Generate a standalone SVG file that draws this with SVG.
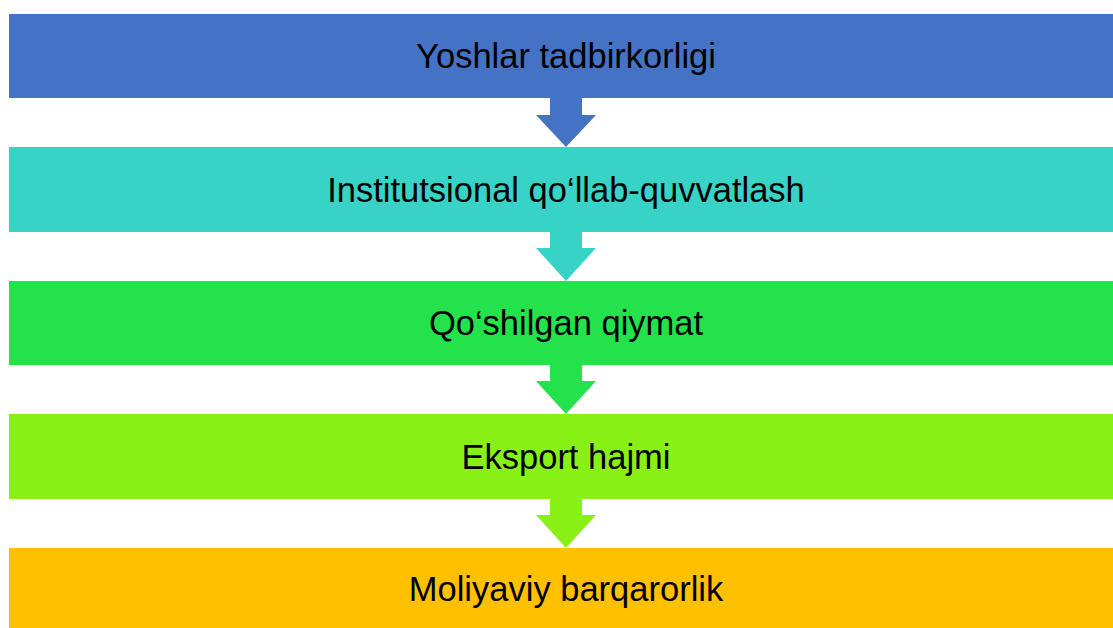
<svg xmlns="http://www.w3.org/2000/svg" width="1113" height="628" viewBox="0 0 1113 628">
<style>
.lbl{font-family:"Liberation Sans",Arial,sans-serif;font-size:34.5px;fill:#000;text-anchor:middle}
</style>
<rect width="1113" height="628" fill="#fff"/>
<g id="connectors">
<path d="M550 98H582V115H596L566 147L536 115H550Z" fill="#4472C4"/>
<path d="M550 232H582V248H596L566 281L536 248H550Z" fill="#36D3C6"/>
<path d="M550 365H582V381H596L566 414L536 381H550Z" fill="#23E24B"/>
<path d="M550 499H582V515H596L566 548L536 515H550Z" fill="#88F014"/>
</g>
<g id="n1"><rect x="9" y="14" width="1104" height="84" fill="#4472C4"/><text class="lbl" x="566" y="68">Yoshlar tadbirkorligi</text></g>
<g id="n2"><rect x="9" y="147" width="1104" height="85" fill="#36D3C6"/><text class="lbl" x="566" y="202">Institutsional qo‘llab-quvvatlash</text></g>
<g id="n3"><rect x="9" y="281" width="1104" height="84" fill="#23E24B"/><text class="lbl" x="566" y="335">Qo‘shilgan qiymat</text></g>
<g id="n4"><rect x="9" y="414" width="1104" height="85" fill="#88F014"/><text class="lbl" x="566" y="469">Eksport hajmi</text></g>
<g id="n5"><rect x="9" y="548" width="1104" height="80" fill="#FFC000"/><text class="lbl" x="566" y="601">Moliyaviy barqarorlik</text></g>
</svg>
